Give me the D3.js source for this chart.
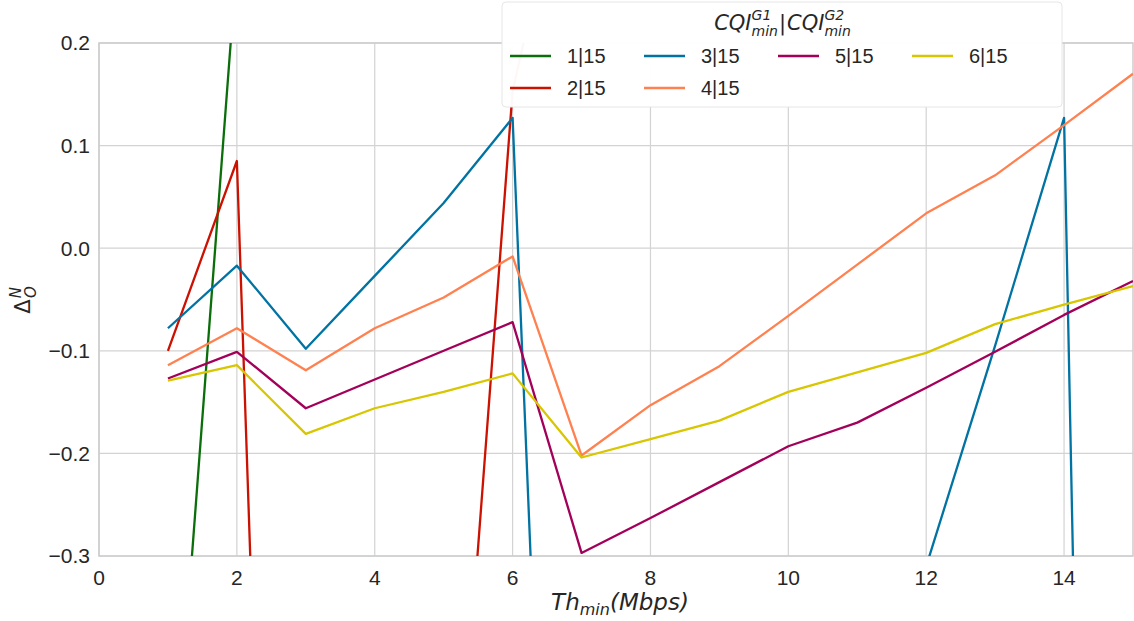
<!DOCTYPE html>
<html lang="en">
<head>
<meta charset="UTF-8">
<title>Delta O N vs Th min</title>
<script src="https://cdn.jsdelivr.net/npm/d3@7"></script>
<style>
    body { margin: 0; background: #fff; }
    text { font-family: "Liberation Sans", Arial, sans-serif; fill: #262626; }
    .math { font-family: "DejaVu Sans", sans-serif; font-style: italic; }
</style>
</head>
<body>
<div id="chart"></div>
<script>
    // x positions (Th_min in Mbps)
    const thMin = [1, 2, 3, 4, 5, 6, 7, 8, 9, 10, 11, 12, 13, 14, 15];

    // series values (values off the visible range are estimated from the slope of the clipped segments)
    const s1 = [-0.61, 0.28, 0.45, 0.52, 0.60, 0.70, 0.38, 0.42, 0.47, 0.53, 0.58, 0.62, 0.66, 0.71, 0.75];
    const s2 = [-0.100, 0.085, -1.90, -1.30, -0.735, 0.153, 0.45, 0.50, 0.55, 0.60, 0.62, 0.65, 0.70, 0.72, 0.75];
    const s3 = [-0.078, -0.017, -0.098, -0.027, 0.044, 0.127, -1.51, -1.20, -0.90, -0.70, -0.50, -0.31, -0.095, 0.127, -3.20];
    const s4 = [-0.114, -0.078, -0.119, -0.078, -0.048, -0.008, -0.202, -0.153, -0.115, -0.066, -0.016, 0.034, 0.071, 0.120, 0.170];
    const s5 = [-0.127, -0.101, -0.156, -0.128, -0.100, -0.072, -0.297, -0.263, -0.228, -0.193, -0.170, -0.136, -0.101, -0.065, -0.032];
    const s6 = [-0.129, -0.114, -0.181, -0.156, -0.140, -0.122, -0.204, -0.186, -0.168, -0.140, -0.121, -0.102, -0.074, -0.055, -0.037];

    const labels = ["1|15", "2|15", "3|15", "4|15", "5|15", "6|15"];
    const colors = ["#0a6e0a", "#cc1100", "#0073a3", "#ff8150", "#a3005a", "#d8c600"];
    const allSeries = [s1, s2, s3, s4, s5, s6];

    const xTicks = [0, 2, 4, 6, 8, 10, 12, 14];
    const yTicks = [0.2, 0.1, 0.0, -0.1, -0.2, -0.3];

    const W = 1134, H = 621;
    const m = {left: 99, right: 1, top: 43, bottom: 65};

    const svg = d3.select("#chart").append("svg")
        .attr("width", W)
        .attr("height", H);

    const x = d3.scaleLinear().domain([0, 15]).range([m.left, W - m.right]);
    const y = d3.scaleLinear().domain([-0.3, 0.2]).range([H - m.bottom, m.top]);

    // grid
    svg.append("g").selectAll("line").data(xTicks).join("line")
        .attr("x1", d => x(d)).attr("x2", d => x(d))
        .attr("y1", m.top).attr("y2", H - m.bottom)
        .attr("stroke", "#d3d3d3").attr("stroke-width", 1.2);
    svg.append("g").selectAll("line").data(yTicks).join("line")
        .attr("x1", m.left).attr("x2", W - m.right)
        .attr("y1", d => y(d)).attr("y2", d => y(d))
        .attr("stroke", "#d3d3d3").attr("stroke-width", 1.2);

    // frame
    svg.append("rect")
        .attr("x", m.left).attr("y", m.top)
        .attr("width", W - m.right - m.left).attr("height", H - m.bottom - m.top)
        .attr("fill", "none").attr("stroke", "#cccccc").attr("stroke-width", 1.5);

    // tick labels
    const fmt = d3.format(".1f");
    svg.append("g").selectAll("text").data(yTicks).join("text")
        .attr("x", m.left - 9).attr("y", d => y(d))
        .attr("dy", "0.35em")
        .attr("text-anchor", "end")
        .style("font-size", "21px")
        .text(d => fmt(d));
    svg.append("g").selectAll("text").data(xTicks).join("text")
        .attr("x", d => x(d)).attr("y", H - m.bottom + 29)
        .attr("text-anchor", "middle")
        .style("font-size", "21px")
        .text(d => d);

    // clip
    svg.append("clipPath").attr("id", "clip")
        .append("rect")
        .attr("x", m.left).attr("y", m.top)
        .attr("width", W - m.right - m.left).attr("height", H - m.bottom - m.top);

    const line = d3.line()
        .x((d, i) => x(thMin[i]))
        .y(d => y(d));

    svg.append("g").attr("clip-path", "url(#clip)")
        .selectAll("path").data(allSeries).join("path")
        .attr("d", d => line(d))
        .attr("fill", "none")
        .attr("stroke", (d, i) => colors[i])
        .attr("stroke-width", 2.3)
        .attr("stroke-linejoin", "round");

    // axis labels
    const xl = svg.append("text").attr("class", "math")
        .attr("x", 620).attr("y", 610)
        .attr("text-anchor", "middle")
        .style("font-size", "23px");
    xl.append("tspan").text("Th");
    xl.append("tspan").attr("dy", 5).style("font-size", "16px").text("min");
    xl.append("tspan").attr("dy", -5).text("(Mbps)");

    const yl = svg.append("text").attr("class", "math")
        .attr("transform", "translate(30,300) rotate(-90)")
        .attr("text-anchor", "middle")
        .style("font-size", "21px");
    yl.append("tspan").style("font-style", "normal").text("Δ");
    yl.append("tspan").attr("dy", -9).attr("dx", 1).style("font-size", "15px").text("N");
    yl.append("tspan").attr("dy", 15).attr("dx", -11).style("font-size", "15px").text("O");

    // legend
    const lg = svg.append("g").attr("transform", "translate(502,2)");
    lg.append("rect")
        .attr("width", 560).attr("height", 105)
        .attr("rx", 4)
        .attr("fill", "#fff").attr("fill-opacity", 0.97)
        .attr("stroke", "#e6e6e6").attr("stroke-width", 1);

    // legend title: CQI_min^G1 | CQI_min^G2, laid out piece by piece
    const tg = lg.append("g");
    let cx = 0;
    function piece(txt, size, dy, italic) {
        const t = tg.append("text")
            .attr("x", cx).attr("y", 28 + dy)
            .style("font-family", "'DejaVu Sans', sans-serif")
            .style("font-style", italic ? "italic" : "normal")
            .style("font-size", size + "px")
            .text(txt);
        return t.node().getComputedTextLength();
    }
    function cqi(sup) {
        cx += piece("CQI", 21, 0, true);
        const w1 = piece(sup, 14, -10, true);
        const w2 = piece("min", 14, 6, true);
        cx += Math.max(w1, w2) + 1;
    }
    cqi("G1");
    cx += piece("|", 21, 0, false) + 1;
    cqi("G2");
    tg.attr("transform", "translate(" + (281 - cx / 2) + ",0)");

    const cols = [0, 0, 1, 1, 2, 3];
    const rows = [0, 1, 0, 1, 0, 0];
    const items = lg.selectAll("g.item").data(labels).join("g")
        .attr("class", "item")
        .attr("transform", (d, i) => "translate(" + (8 + cols[i] * 134) + "," + (54 + rows[i] * 32) + ")");
    items.append("line")
        .attr("x1", 0).attr("x2", 41)
        .attr("stroke", (d, i) => colors[i])
        .attr("stroke-width", 2.3);
    items.append("text")
        .attr("x", 57).attr("dy", "0.35em")
        .style("font-size", "20px")
        .text(d => d);
</script>
</body>
</html>
